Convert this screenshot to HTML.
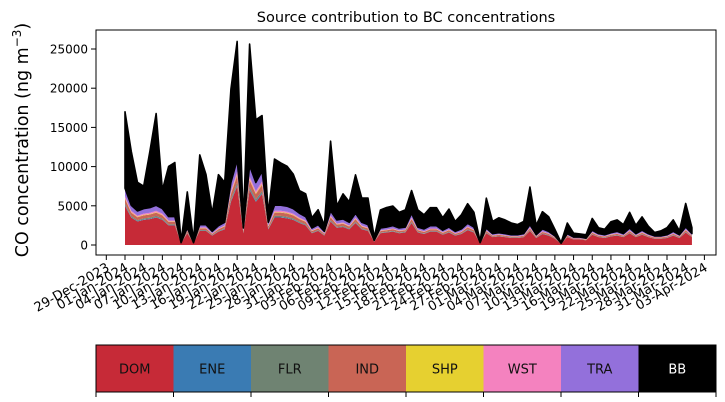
<!DOCTYPE html>
<html><head><meta charset="utf-8">
<style>
html,body{margin:0;padding:0;background:#fff;}
svg{display:block;font-family:"DejaVu Sans","Liberation Sans",sans-serif;}
</style></head>
<body>
<svg id="chart" width="725" height="402" viewBox="0 0 725 402" xmlns="http://www.w3.org/2000/svg">
<text x="406" y="22" text-anchor="middle" font-size="14.5">Source contribution to BC concentrations</text>
<text transform="translate(28,140) rotate(-90)" text-anchor="middle" font-size="17.5">CO concentration (ng m<tspan baseline-shift="super" font-size="12">−3</tspan>)</text>
<g id="layers"></g>
<rect x="96" y="30" width="620" height="225" fill="none" stroke="#000" stroke-width="1"/>
<g id="yaxis"></g>
<g id="xaxis"></g>
<g id="legend"></g>
</svg>
<script>
const dom=[5000,3500,3000,3200,3300,3500,3200,2500,2500,200,1500,200,1800,1800,1200,1700,2000,5500,7500,1500,7000,5500,6500,2000,3500,3500,3400,3200,2800,2500,1500,1800,1200,3000,2200,2300,2000,2800,2000,1800,400,1500,1600,1700,1500,1600,2800,1600,1400,1700,1700,1300,1600,1200,1400,1900,1600,200,1500,1000,1100,1000,900,900,1000,1800,900,1400,1200,800,150,1000,700,700,600,1300,1000,900,1100,1200,1000,1500,1000,1300,1000,800,800,900,1200,900,1600,1000];
const ene=[100,70,60,65,65,70,65,50,50,4,30,4,35,35,25,35,40,110,150,30,140,110,130,40,70,70,70,65,55,50,30,35,25,60,45,45,40,55,40,35,8,30,30,35,30,30,55,30,28,33,33,28,30,25,28,38,30,4,30,20,22,20,18,18,20,35,18,28,25,18,3,20,14,14,12,28,20,18,22,25,20,30,20,28,20,17,17,18,25,18,33,20];
const flr=[200,140,120,130,130,140,130,100,100,8,60,8,70,70,50,70,80,220,300,60,280,220,260,80,140,140,140,130,110,100,60,70,50,120,90,90,80,110,80,70,16,60,60,70,60,60,110,60,55,65,65,55,60,50,55,75,60,8,60,40,45,40,35,35,40,70,35,55,50,35,6,40,27,27,24,55,40,35,45,50,40,60,40,55,40,33,33,35,50,35,65,40];
const ind=[600,420,360,380,400,420,380,300,300,25,180,25,220,220,140,200,240,660,900,180,840,660,780,240,420,420,410,380,340,300,180,220,140,360,260,280,240,340,240,220,50,180,190,200,180,190,340,190,170,200,200,160,190,140,170,230,190,25,180,120,130,120,110,110,120,220,110,170,140,100,20,120,80,80,70,160,120,110,130,140,120,180,120,160,120,100,100,110,140,110,190,120];
const shp=[100,70,60,65,65,70,65,50,50,4,30,4,35,35,25,35,40,110,150,30,140,110,130,40,70,70,70,65,55,50,30,35,25,60,45,45,40,55,40,35,8,30,30,35,30,30,55,30,28,33,33,28,30,25,28,38,30,4,30,20,22,20,18,18,20,35,18,28,25,18,3,20,14,14,12,28,20,18,22,25,20,30,20,28,20,17,17,18,25,18,33,20];
const wst=[240,170,145,155,160,170,155,120,120,10,70,10,85,85,60,80,95,265,360,70,335,265,310,95,170,170,165,155,135,120,70,85,60,145,105,110,95,135,95,85,20,70,75,80,70,75,135,75,70,80,80,65,75,55,70,90,75,10,70,50,50,50,45,45,50,85,45,70,55,40,8,50,32,32,28,65,50,45,50,55,50,70,50,65,50,40,40,45,55,45,75,50];
const tra=[1000,700,600,650,650,700,650,500,500,40,300,40,350,350,250,350,400,1100,1500,300,1400,1100,1300,400,700,700,700,650,550,500,300,350,250,600,450,450,400,550,400,350,80,300,300,350,300,300,550,300,300,350,350,250,300,250,300,400,300,40,300,200,200,200,180,180,200,350,180,300,250,150,30,200,150,150,120,250,200,180,200,250,200,300,200,250,200,150,150,180,250,180,300,200];
const bb=[9750,6900,3650,2860,7200,11700,2360,6400,6900,110,4600,310,8900,6400,2260,6500,5100,11900,15100,800,15500,8000,7100,1100,5900,5400,5100,4400,2900,2900,1300,1900,760,8900,1800,3200,2600,4900,3100,3400,420,2300,2500,2500,2000,2200,2900,2200,1800,2300,2300,1600,2300,1260,1800,2500,1900,160,3800,1550,1900,1750,1500,1300,1550,4800,1200,2200,1860,840,80,1350,490,390,430,1500,750,700,1400,1460,1150,2000,1050,1700,950,440,640,900,1460,500,3000,750];
const seriesNames=["DOM","ENE","FLR","IND","SHP","WST","TRA","BB"];
const seriesColors=["#c62a37","#3a7bb3","#6f8372","#c96555","#e6d030","#f482bf","#9370db","#000000"];
const yTicks=[0,5000,10000,15000,20000,25000];
const xTickLabels=["29-Dec-2023","01-Jan-2024","04-Jan-2024","07-Jan-2024","10-Jan-2024","13-Jan-2024","16-Jan-2024","19-Jan-2024","22-Jan-2024","25-Jan-2024","28-Jan-2024","31-Jan-2024","03-Feb-2024","06-Feb-2024","09-Feb-2024","12-Feb-2024","15-Feb-2024","18-Feb-2024","21-Feb-2024","24-Feb-2024","27-Feb-2024","01-Mar-2024","04-Mar-2024","07-Mar-2024","10-Mar-2024","13-Mar-2024","16-Mar-2024","19-Mar-2024","22-Mar-2024","25-Mar-2024","28-Mar-2024","31-Mar-2024","03-Apr-2024"];
const xTickDays=[-3,0,3,6,9,12,15,18,21,24,27,30,33,36,39,42,45,48,51,54,57,60,63,66,69,72,75,78,81,84,87,90,93];

const NS="http://www.w3.org/2000/svg";
function xs(d){return 125+d*6.23;}
function ys(v){return 245-v*0.00784;}
const series=[dom,ene,flr,ind,shp,wst,tra,bb];
const layers=document.getElementById('layers');
let base=dom.map(()=>0);
series.forEach((s,k)=>{
  const top=base.map((b,i)=>b+s[i]);
  let d="M"+xs(0)+","+ys(top[0]);
  for(let i=1;i<top.length;i++) d+=" L"+xs(i).toFixed(2)+","+ys(top[i]).toFixed(2);
  for(let i=base.length-1;i>=0;i--) d+=" L"+xs(i).toFixed(2)+","+ys(base[i]).toFixed(2);
  d+=" Z";
  const p=document.createElementNS(NS,'path');
  p.setAttribute('d',d);
  p.setAttribute('fill',seriesColors[k]);
  if(k===7){p.setAttribute('stroke','#000');p.setAttribute('stroke-width','1.6');p.setAttribute('stroke-linejoin','round');}
  
  
  layers.appendChild(p);
  base=top;
});
const ya=document.getElementById('yaxis');
yTicks.forEach(v=>{
  const l=document.createElementNS(NS,'line');
  l.setAttribute('x1',91);l.setAttribute('x2',96);l.setAttribute('y1',ys(v));l.setAttribute('y2',ys(v));l.setAttribute('stroke','#000');
  
  
  ya.appendChild(l);
  const t=document.createElementNS(NS,'text');
  t.setAttribute('x',88);t.setAttribute('y',ys(v)+4.5);t.setAttribute('text-anchor','end');t.setAttribute('font-size','12');
  t.textContent=v;
  
  
  ya.appendChild(t);
});
const xa=document.getElementById('xaxis');
xTickDays.forEach((d,i)=>{
  const x=xs(d);
  const l=document.createElementNS(NS,'line');
  l.setAttribute('x1',x);l.setAttribute('x2',x);l.setAttribute('y1',255);l.setAttribute('y2',260);l.setAttribute('stroke','#000');
  
  
  xa.appendChild(l);
  const t=document.createElementNS(NS,'text');
  t.setAttribute('transform','translate('+(x+4)+',270) rotate(-30)');
  t.setAttribute('text-anchor','end');t.setAttribute('font-size','13');
  t.textContent=xTickLabels[i];
  
  
  xa.appendChild(t);
});
const lg=document.getElementById('legend');
const lx=96,lw=620,ly=345,lh=47,sw=lw/seriesNames.length;
seriesNames.forEach((n,i)=>{
  const r=document.createElementNS(NS,'rect');
  r.setAttribute('x',lx+i*sw);r.setAttribute('y',ly);r.setAttribute('width',sw+0.5);r.setAttribute('height',lh);r.setAttribute('fill',seriesColors[i]);
  
  
  lg.appendChild(r);
  const t=document.createElementNS(NS,'text');
  t.setAttribute('x',lx+i*sw+sw/2);t.setAttribute('y',ly+lh/2+5);t.setAttribute('text-anchor','middle');t.setAttribute('font-size','13');
  t.setAttribute('fill',i===7?'#fff':'#111');
  t.textContent=n;
  
  
  lg.appendChild(t);
});
for(let i=0;i<=seriesNames.length;i++){
  const l=document.createElementNS(NS,'line');
  const x=lx+i*sw;
  l.setAttribute('x1',x);l.setAttribute('x2',x);l.setAttribute('y1',ly+lh);l.setAttribute('y2',ly+lh+5);l.setAttribute('stroke','#000');
  
  
  lg.appendChild(l);
}
const fr=document.createElementNS(NS,'rect');
fr.setAttribute('x',lx);fr.setAttribute('y',ly);fr.setAttribute('width',lw);fr.setAttribute('height',lh);fr.setAttribute('fill','none');fr.setAttribute('stroke','#000');


lg.appendChild(fr);
</script>
</body></html>
